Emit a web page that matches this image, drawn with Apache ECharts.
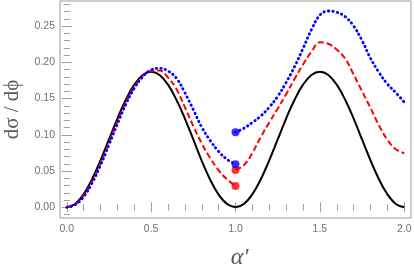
<!DOCTYPE html>
<html>
<head>
<meta charset="utf-8">
<script src="https://cdn.jsdelivr.net/npm/echarts@6/dist/echarts.min.js"></script>
<style>
html,body{margin:0;padding:0;background:#fff;}
#c{width:414px;height:273px;}
</style>
</head>
<body>
<div id="c"></div>
<script>
// x grids
var xLeft  = [0,0.05,0.1,0.15,0.2,0.25,0.3,0.35,0.4,0.45,0.5,0.55,0.6,0.65,0.7,0.75,0.8,0.85,0.9,0.95,1.0];
var xRight = [1.0,1.05,1.1,1.15,1.2,1.25,1.3,1.35,1.4,1.45,1.5,1.55,1.6,1.65,1.7,1.75,1.8,1.85,1.9,1.95,2.0];
// black solid curve
var blackLeft  = [0,0.0046,0.0179,0.0387,0.0646,0.0935,0.1224,0.1483,0.1691,0.1825,0.187,0.1825,0.1691,0.1483,0.1224,0.0935,0.0640,0.0380,0.0175,0.0045,0];
var blackRight = [0,0.0046,0.0179,0.0387,0.0646,0.0935,0.1224,0.1483,0.1691,0.1825,0.187,0.1825,0.1691,0.1483,0.1224,0.0935,0.0646,0.0387,0.0179,0.0046,0];
// red dashed curve
var redLeft  = [0,0.0040,0.0160,0.0355,0.0605,0.0890,0.1180,0.1445,0.1660,0.1810,0.1880,0.1885,0.1790,0.1630,0.1380,0.1120,0.0880,0.0680,0.0510,0.0385,0.0294];
var redRight = [0.0514,0.0580,0.0750,0.0970,0.1170,0.1360,0.1560,0.1770,0.1970,0.2145,0.2275,0.2255,0.2175,0.2050,0.1830,0.1600,0.1370,0.1130,0.0930,0.0800,0.0745];
// blue dotted curve
var blueLeft  = [0,0.0035,0.0145,0.0335,0.0580,0.0860,0.1150,0.1420,0.1640,0.1800,0.1895,0.1917,0.1880,0.1780,0.1580,0.1345,0.1105,0.0920,0.0770,0.0660,0.0593];
var blueRight = [0.1034,0.1090,0.1170,0.1260,0.1380,0.1530,0.1720,0.1940,0.2190,0.2450,0.2650,0.2707,0.2690,0.2630,0.2500,0.2300,0.2055,0.1860,0.1700,0.1580,0.1450];
// points at alpha' = 1
var redPts  = [[1.0,0.0294],[1.0,0.0514]];
var bluePts = [[1.0,0.0593],[1.0,0.1034]];
// ticks
var xMajor = [0,0.5,1.0,1.5,2.0];
var xMinor = [0.1,0.2,0.3,0.4,0.6,0.7,0.8,0.9,1.1,1.2,1.3,1.4,1.6,1.7,1.8,1.9];
var yMajor = [0,0.05,0.10,0.15,0.20,0.25];
var yMinor = [-0.01,0.01,0.02,0.03,0.04,0.06,0.07,0.08,0.09,0.11,0.12,0.13,0.14,0.16,0.17,0.18,0.19,0.21,0.22,0.23,0.24,0.26,0.27,0.28];

function pairs(xs, ys){ return xs.map(function(x,i){return [x, ys[i]];}); }

var GRAY = '#9a9a9a';
var LBL = '#707070';
var XMIN = -0.04, XMAX = 2.04, YMIN = -0.0148, YMAX = 0.2845;

function xAx(pos, ticks, len, labels){
  return {
    type:'value', position:pos, min:XMIN, max:XMAX,
    axisLine:{show:false}, splitLine:{show:false},
    axisTick:{show:true, inside:true, length:len, customValues:ticks, lineStyle:{color:GRAY, width:1}},
    axisLabel: labels ? {show:true, customValues:ticks, color:LBL, fontFamily:'Liberation Sans', fontSize:10.5, margin:6,
      formatter:function(v){return v.toFixed(1);}} : {show:false}
  };
}
function yAx(pos, ticks, len, labels){
  return {
    type:'value', position:pos, min:YMIN, max:YMAX,
    axisLine:{show:false}, splitLine:{show:false},
    axisTick:{show:true, inside:true, length:len, customValues:ticks, lineStyle:{color:GRAY, width:1}},
    axisLabel: labels ? {show:true, customValues:ticks, color:LBL, fontFamily:'Liberation Sans', fontSize:10.5, margin:5,
      formatter:function(v){return v.toFixed(2);}} : {show:false}
  };
}

var xAxes = [xAx('bottom', xMajor, 5, true), xAx('bottom', xMinor, 3, false), xAx('top', xMajor, 5, false), xAx('top', xMinor, 3, false)];
var yAxes = [yAx('left', yMajor, 5, true), yAx('left', yMinor, 3, false), yAx('right', yMajor, 5, false), yAx('right', yMinor, 3, false)];

xAxes[0].name = "\u03b1'";
xAxes[0].nameLocation = 'middle';
xAxes[0].nameGap = 28;
xAxes[0].nameTextStyle = {fontFamily:'Liberation Serif', fontStyle:'italic', fontSize:24, color:'#5a5a5a', padding:[0,0,0,8]};
yAxes[0].name = 'd\u03c3 / d\u03d5';
yAxes[0].nameLocation = 'middle';
yAxes[0].nameGap = 37;
yAxes[0].nameTextStyle = {fontFamily:'Liberation Serif', fontSize:21, color:'#5a5a5a'};

function line(xs, ys, color, type, width, cap){
  return {type:'line', xAxisIndex:0, yAxisIndex:0, data:pairs(xs, ys), showSymbol:false, smooth:0.4,
    lineStyle:{color:color, width:width, type:type, cap:cap||'butt'}, silent:true};
}

var option = {
  animation:false,
  grid:{left:60, right:3, top:1, bottom:55, outerBoundsMode:'none', containLabel:false, show:true, borderColor:GRAY, borderWidth:1, backgroundColor:'transparent'},
  xAxis: xAxes,
  yAxis: yAxes,
  series: [
    line(xLeft, blackLeft, '#000000', 'solid', 2),
    line(xRight, blackRight, '#000000', 'solid', 2),
    line(xLeft, redLeft, '#ff0000', [6,3], 2),
    line(xRight, redRight, '#ff0000', [6,3], 2),
    line(xLeft, blueLeft, '#0000ff', [0.5,4], 2.8, 'round'),
    line(xRight, blueRight, '#0000ff', [0.5,4], 2.8, 'round'),
    {type:'scatter', xAxisIndex:0, yAxisIndex:0, data:redPts, symbol:'circle', symbolSize:8, itemStyle:{color:'#ff0000'}, z:5},
    {type:'scatter', xAxisIndex:0, yAxisIndex:0, data:bluePts, symbol:'circle', symbolSize:8, itemStyle:{color:'#0000ff'}, z:5}
  ]
};
var chart = echarts.init(document.getElementById('c'), null, {renderer:'canvas'});
chart.setOption(option);
</script>
</body>
</html>
